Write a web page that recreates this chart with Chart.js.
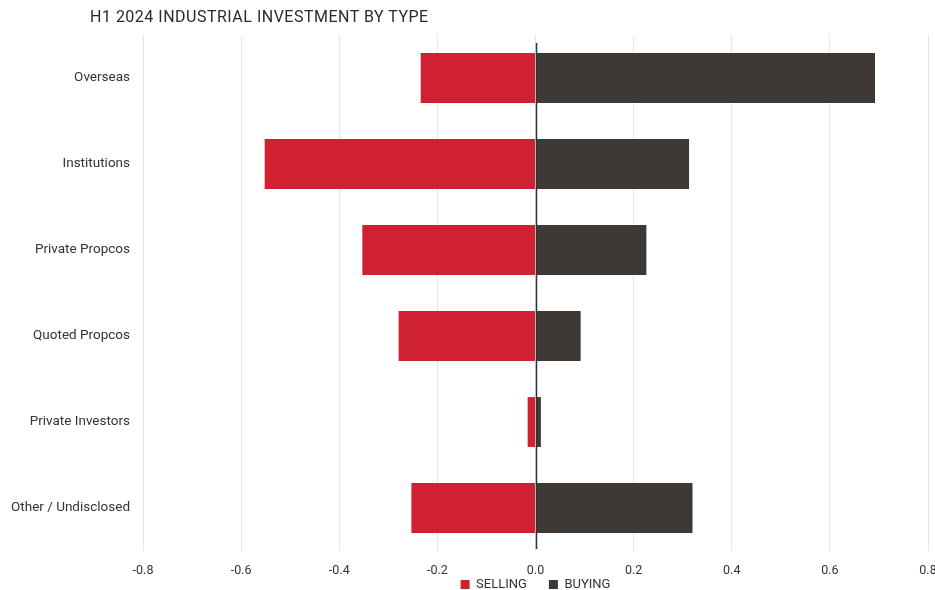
<!DOCTYPE html>
<html>
<head>
<meta charset="utf-8">
<script src="https://cdn.jsdelivr.net/npm/chart.js@4/dist/chart.umd.min.js"></script>
<style>
html,body{margin:0;padding:0;background:#fff;}
#wrap{position:relative;width:935px;height:590px;}
#title{position:absolute;left:90px;top:7px;font-family:Roboto,"DejaVu Sans",sans-serif;font-size:16px;color:#2a2a2a;letter-spacing:0.5px;}
#c{position:absolute;left:0;top:0;}
</style>
</head>
<body>
<div id="wrap">
<canvas id="c" width="935" height="590"></canvas>
<div id="title">H1 2024 INDUSTRIAL INVESTMENT BY TYPE</div>
</div>
<script>
const categories = ["Overseas","Institutions","Private Propcos","Quoted Propcos","Private Investors","Other / Undisclosed"];
const selling = [-0.234,-0.552,-0.353,-0.279,-0.016,-0.253];
const buying = [0.692,0.313,0.226,0.092,0.011,0.320];
const seriesNames = ["SELLING","BUYING"];
const xTicks = [-0.8,-0.6,-0.4,-0.2,0.0,0.2,0.4,0.6,0.8];

const FONT = "Roboto, 'DejaVu Sans', sans-serif";

const zeroLine = {
  id: 'zeroLine',
  afterDatasetsDraw(chart) {
    const x = Math.round(chart.scales.x.getPixelForValue(0)) + 0.5;
    const ctx = chart.ctx;
    ctx.save();
    ctx.strokeStyle = '#333';
    ctx.lineWidth = 1.5;
    ctx.beginPath();
    ctx.moveTo(x, chart.chartArea.top + 8);
    ctx.lineTo(x, chart.chartArea.bottom - 2);
    ctx.stroke();
    ctx.restore();
  }
};

const legendFit = {
  id: 'legendFit',
  beforeLayout(chart) {
    const lg = chart.legend;
    if (lg && !lg._patched) {
      const orig = lg.fit.bind(lg);
      lg.fit = function () { orig(); this.height = -13; };
      lg._patched = true;
    }
  },
  beforeDraw(chart) {
    const lg = chart.legend;
    if (lg) { lg.top = 556; lg.bottom = 590; lg.height = 34; }
  }
};

new Chart(document.getElementById('c'), {
  type: 'bar',
  data: {
    labels: categories,
    datasets: [
      {label: seriesNames[0], data: selling, backgroundColor: '#cf2132', borderWidth: 0, categoryPercentage: 0.58, barPercentage: 1},
      {label: seriesNames[1], data: buying, backgroundColor: '#3e3935', borderWidth: 0, categoryPercentage: 0.58, barPercentage: 1}
    ]
  },
  plugins: [zeroLine, legendFit],
  options: {
    indexAxis: 'y',
    responsive: false,
    animation: false,
    layout: {padding: {top: 35, right: 0, left: 0, bottom: 0}},
    plugins: {
      title: {display: false},
      tooltip: {enabled: false},
      legend: {
        position: 'bottom',
        fullSize: false,
        labels: {boxWidth: 9, boxHeight: 9, padding: 22, color: '#333', font: {family: FONT, size: 13}}
      }
    },
    scales: {
      x: {
        stacked: true,
        min: -0.8, max: 0.8,
        afterBuildTicks: (s) => { s.ticks = xTicks.map(v => ({value: v})); },
        afterFit: (s) => { s.paddingRight = 7; },
        ticks: {color: '#333', padding: 12, maxRotation: 0, font: {family: FONT, size: 12.5},
          callback: (v) => Number(v).toFixed(1)},
        grid: {color: '#e6e6e6', lineWidth: 1, drawTicks: false},
        border: {display: false}
      },
      y: {
        stacked: true,
        afterFit: (s) => { s.width = 143; },
        ticks: {color: '#333', padding: 5, font: {family: FONT, size: 13.5}},
        grid: {display: false},
        border: {display: false}
      }
    }
  }
});
</script>
</body>
</html>
